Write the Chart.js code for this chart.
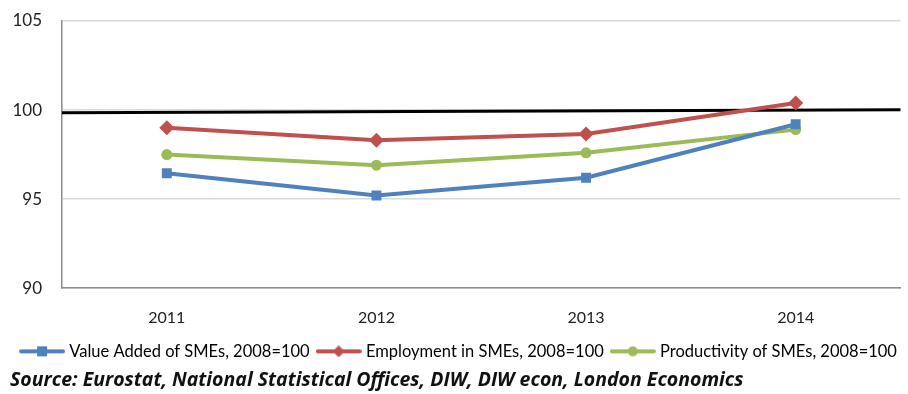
<!DOCTYPE html>
<html>
<head>
<meta charset="utf-8">
<script src="https://cdn.jsdelivr.net/npm/chart.js@4/dist/chart.umd.min.js"></script>
<style>
  html, body { margin: 0; padding: 0; background: #fff; }
  #wrap { width: 908px; height: 394px; position: relative; }
</style>
</head>
<body>
<div id="wrap"><canvas id="smeChart"></canvas></div>
<script>
var years = ["2011", "2012", "2013", "2014"];
var valueAdded = [96.45, 95.2, 96.2, 99.2];
var employment = [99.0, 98.3, 98.65, 100.4];
var productivity = [97.5, 96.9, 97.6, 98.9];
var seriesNames = ["Value Added of SMEs, 2008=100", "Employment in SMEs, 2008=100", "Productivity of SMEs, 2008=100"];
var seriesColors = ["#4f81bd", "#c0504d", "#9bbb59"];
var markerStyles = ["rect", "rectRot", "circle"];
var markerSizes = [7, 7.5, 5.5];
// the reference line at 100 is drawn slightly tilted in the original
var baseLine = [99.85, 100.02];

var FONT = "Lato, 'Open Sans', sans-serif";

// little line + marker pictures for the legend
function legendIcon(color, style) {
  var c = document.createElement("canvas");
  c.width = 46; c.height = 12;
  var g = c.getContext("2d");
  g.strokeStyle = color; g.fillStyle = color; g.lineWidth = 4; g.lineCap = "round";
  g.beginPath(); g.moveTo(2, 6); g.lineTo(44, 6); g.stroke();
  g.beginPath();
  if (style === "rect") g.rect(18, 1, 10, 10);
  else if (style === "rectRot") { g.moveTo(23, 0); g.lineTo(29, 6); g.lineTo(23, 12); g.lineTo(17, 6); g.closePath(); }
  else g.arc(23, 6, 5, 0, Math.PI * 2);
  g.fill();
  return c;
}

var baseLinePlugin = {
  id: "baseLine",
  afterInit: function (chart) {
    // keep the legend band a fixed height
    var lg = chart.legend, fit = lg.fit;
    lg.fit = function () { fit.call(this); this.height = 34; };
  },
  beforeDatasetsDraw: function (chart) {
    var a = chart.chartArea, y = chart.scales.y, ctx = chart.ctx;
    ctx.save();
    ctx.strokeStyle = "#000"; ctx.lineWidth = 3;
    ctx.beginPath();
    ctx.moveTo(a.left, y.getPixelForValue(baseLine[0]));
    ctx.lineTo(a.right, y.getPixelForValue(baseLine[1]));
    ctx.stroke();
    ctx.restore();
  }
};

var allSeries = [valueAdded, employment, productivity];
var datasets = allSeries.map(function (vals, i) {
  return {
    label: seriesNames[i],
    data: vals,
    borderColor: seriesColors[i],
    backgroundColor: seriesColors[i],
    borderWidth: 4,
    pointStyle: markerStyles[i],
    pointRadius: markerSizes[i],
    pointBorderWidth: 0,
    tension: 0,
    legendIcon: legendIcon(seriesColors[i], markerStyles[i])
  };
});

var ctx = document.getElementById("smeChart").getContext("2d");
var smeChart = new Chart(ctx, {
  type: "line",
  data: { labels: years, datasets: datasets },
  plugins: [baseLinePlugin],
  options: {
    responsive: true,
    maintainAspectRatio: false,
    animation: false,
    layout: { padding: { top: 21, right: -2, left: 10, bottom: 2 } },
    scales: {
      x: {
        offset: true,
        afterFit: function (scale) { scale.height = 45; },
        grid: { display: false, drawTicks: false },
        border: { color: "#8c8c8c", width: 1.5 },
        ticks: { color: "#222", font: { family: FONT, size: 16 }, padding: 20 }
      },
      y: {
        min: 90, max: 105,
        afterFit: function (scale) { scale.width = 52; scale.paddingTop = 0; scale.paddingBottom = 0; },
        ticks: { stepSize: 5, color: "#222", font: { family: FONT, size: 17 }, padding: 20 },
        grid: { color: "#d9d9d9", lineWidth: 1.5, drawTicks: false },
        border: { color: "#8c8c8c", width: 1.5 }
      }
    },
    plugins: {
      tooltip: { enabled: false },
      legend: {
        position: "bottom",
        align: "center",
        labels: {
          usePointStyle: true,
          pointStyleWidth: 38,
          boxHeight: 12,
          padding: 10,
          color: "#222",
          font: { family: FONT, size: 16.5 },
          generateLabels: function (chart) {
            return chart.data.datasets.map(function (ds, i) {
              return { text: ds.label, pointStyle: ds.legendIcon, fillStyle: ds.borderColor, strokeStyle: ds.borderColor, lineWidth: 0, datasetIndex: i, hidden: false };
            });
          }
        }
      },
      subtitle: {
        display: true,
        position: "bottom",
        align: "start",
        text: "Source: Eurostat, National Statistical Offices, DIW, DIW econ, London Economics",
        color: "#111",
        font: { family: "'Open Sans', sans-serif", size: 19.5, weight: "bold", style: "italic" },
        padding: { top: 1.5, bottom: 0 }
      }
    }
  }
});
</script>
</body>
</html>
